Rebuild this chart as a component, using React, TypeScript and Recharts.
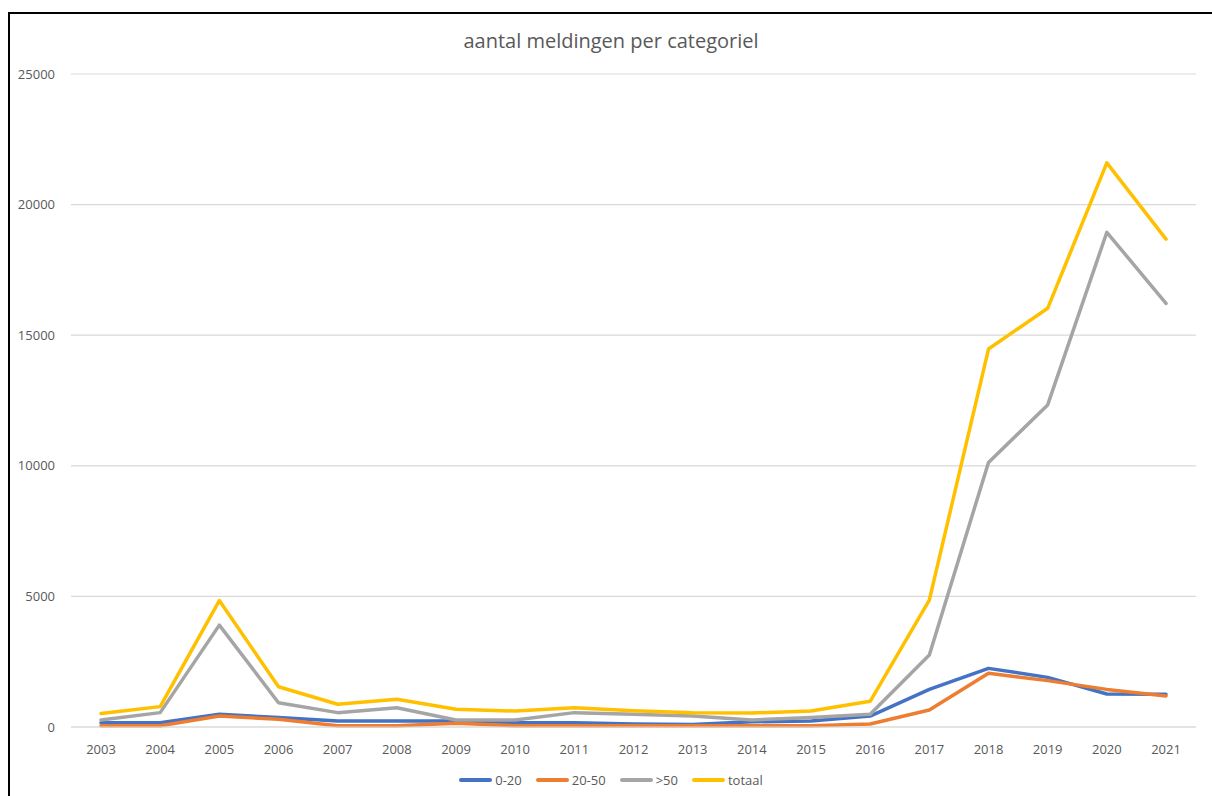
import React from 'react';
import { LineChart, Line, XAxis, YAxis, CartesianGrid, Legend } from 'recharts';

const years = ['2003','2004','2005','2006','2007','2008','2009','2010','2011','2012','2013','2014','2015','2016','2017','2018','2019','2020','2021'];
const s0_20 = [165,165,485,360,230,230,230,165,165,115,100,200,230,420,1440,2245,1900,1265,1250];
const s20_50 = [50,50,420,295,50,50,140,50,50,50,50,50,50,115,650,2055,1775,1440,1190];
const sOver50 = [270,550,3900,930,550,740,270,270,550,485,420,270,360,485,2760,10130,12330,18940,16220];
const sTotaal = [520,780,4840,1540,870,1060,680,610,740,625,550,535,610,985,4860,14470,16030,21600,18680];
const yTicks = [0,5000,10000,15000,20000,25000];

const seriesNames = ['0-20','20-50','>50','totaal'];
const seriesColors = ['#4472C4','#ED7D31','#A5A5A5','#FFC000'];
const seriesKeys = ['a','b','c','d'];

const data = years.map((y, i) => ({
  year: y,
  a: s0_20[i],
  b: s20_50[i],
  c: sOver50[i],
  d: sTotaal[i],
}));

const LegendContent = () => (
  <div style={{ display: 'flex', justifyContent: 'center', alignItems: 'center', fontFamily: 'Open Sans, sans-serif', fontSize: 13, color: '#595959', height: 16 }}>
    {seriesNames.map((n, i) => (
      <div key={n} style={{ display: 'flex', alignItems: 'center', marginRight: i < seriesNames.length - 1 ? 14 : 0 }}>
        <div style={{ width: 33, height: 4, borderRadius: 2, background: seriesColors[i], marginRight: 3 }} />
        <span>{n}</span>
      </div>
    ))}
  </div>
);

export default function App() {
  return (
    <div style={{ position: 'absolute', left: 8, top: 12, width: 1202, height: 782, borderLeft: '2px solid #000', borderTop: '2px solid #000', background: '#fff' }}>
      <div style={{ position: 'absolute', left: 0, top: 13, width: 1202, height: 28, lineHeight: '28px', textAlign: 'center', fontFamily: 'Open Sans, sans-serif', fontSize: 20, color: '#595959', zIndex: 2 }}>
        aantal meldingen per categoriel
      </div>
      <LineChart width={1202} height={782} data={data} margin={{ top: 60, right: 16, left: 0, bottom: 39 }}>
        <CartesianGrid vertical={false} stroke="#d9d9d9" strokeWidth={1.2} />
        <XAxis
          dataKey="year"
          padding={{ left: 30, right: 30 }}
          axisLine={{ stroke: '#d9d9d9', strokeWidth: 1.2 }}
          tickLine={false}
          tickSize={0}
          tickMargin={18}
          height={30}
          interval={0}
          tick={{ fill: '#595959', fontSize: 13, fontFamily: 'Open Sans, sans-serif' }}
        />
        <YAxis
          domain={[0, 25000]}
          ticks={yTicks}
          axisLine={false}
          tickLine={false}
          tickSize={0}
          tickMargin={16}
          width={61}
          tick={{ fill: '#595959', fontSize: 13, fontFamily: 'Open Sans, sans-serif' }}
        />
        <Legend verticalAlign="middle" layout="horizontal" content={<LegendContent />} wrapperStyle={{ top: 758, left: 0, width: 1202 }} />
        {seriesKeys.map((k, i) => (
          <Line key={k} type="linear" dataKey={k} name={seriesNames[i]} stroke={seriesColors[i]} strokeWidth={3.5} dot={false} activeDot={false} isAnimationActive={false} strokeLinejoin="round" strokeLinecap="round" />
        ))}
      </LineChart>
    </div>
  );
}
